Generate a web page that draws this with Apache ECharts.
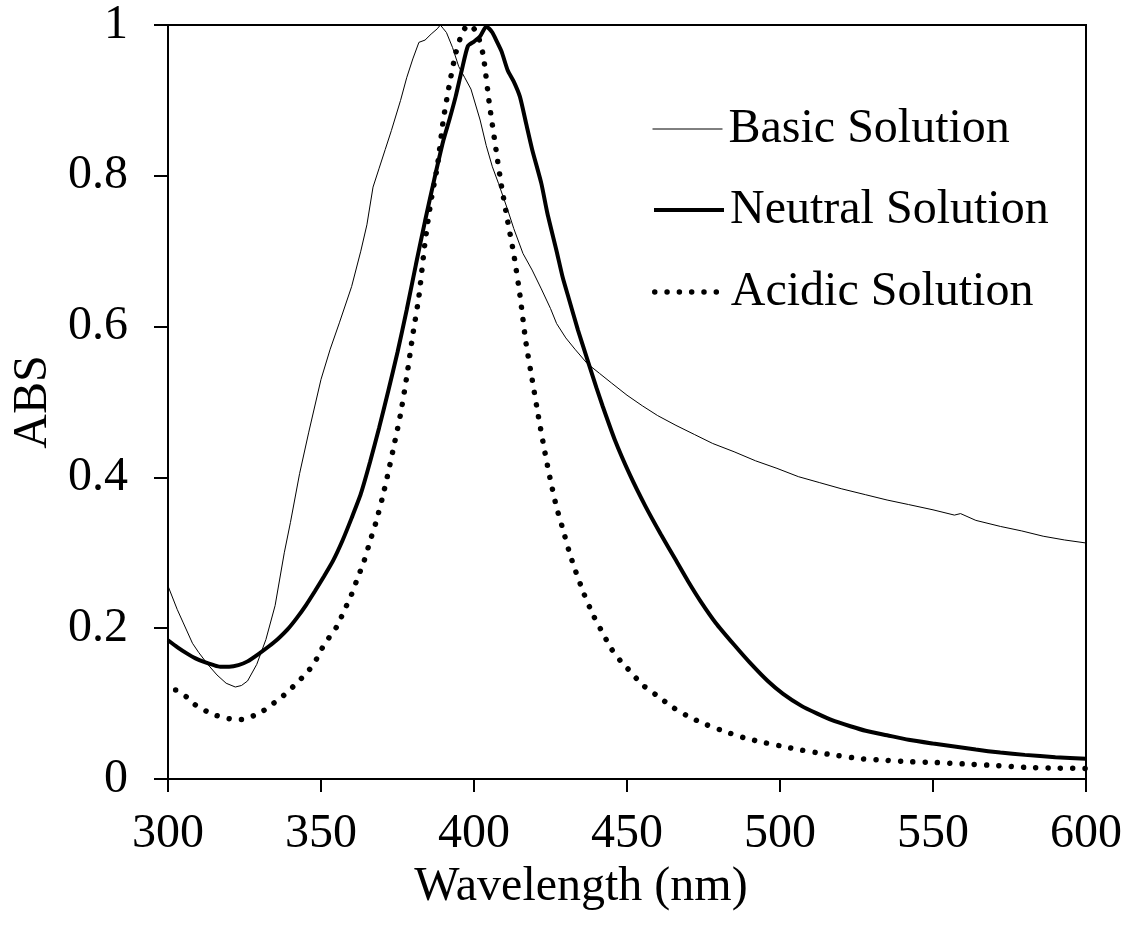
<!DOCTYPE html>
<html>
<head>
<meta charset="utf-8">
<script src="https://cdn.jsdelivr.net/npm/echarts@6/dist/echarts.min.js"></script>
<style>
html,body{margin:0;padding:0;background:#fff;}
#chart{width:1127px;height:929px;}
</style>
</head>
<body>
<div id="chart"></div>
<script>
// Tick labels / axis ranges
var xTicks = [300, 350, 400, 450, 500, 550, 600];
var yTicks = [0, 0.2, 0.4, 0.6, 0.8, 1];
var seriesNames = ['Basic Solution', 'Neutral Solution', 'Acidic Solution'];

// Basic solution
var basicWl = [300,303,305,308,310,313,316,319,322,324,326,329,332,335,338,340,343,346,350,353,356,360,363,365,367,369,371,373,376,378,380,382,384,386,388,389,390,391,393,395,397,399,402,404,406,408,411,413,416,419,422,425,427,430,433,437,441,445,450,455,460,466,472,478,485,492,499,506,513,520,528,535,542,550,557,559,564,572,579,586,593,600];
var basicAbs = [0.256,0.225,0.207,0.180,0.168,0.152,0.138,0.127,0.122,0.124,0.130,0.152,0.185,0.230,0.300,0.340,0.405,0.460,0.530,0.570,0.605,0.653,0.700,0.735,0.785,0.810,0.835,0.860,0.900,0.930,0.955,0.977,0.980,0.988,0.995,1.000,0.995,0.990,0.970,0.945,0.930,0.915,0.874,0.840,0.812,0.790,0.755,0.730,0.697,0.675,0.650,0.624,0.604,0.585,0.570,0.551,0.538,0.525,0.509,0.495,0.482,0.469,0.457,0.445,0.434,0.422,0.412,0.401,0.393,0.385,0.377,0.370,0.364,0.357,0.350,0.352,0.343,0.335,0.329,0.322,0.317,0.313];

// Neutral solution
var neutralWl = [300,303,306,309,312,315,317,320,323,326,330,333,336,339,342,345,348,351,354,357,360,363,366,369,372,375,378,381,384,387,390,392,394,396,398,400,402,404,405,406,407,409,411,413,415,417,419,422,424,427,429,431,434,437,440,442,446,451,456,461,466,470,474,479,485,490,496,501,507,512,517,523,528,535,542,550,557,564,572,580,590,600];
var neutralAbs = [0.184,0.175,0.167,0.160,0.155,0.151,0.149,0.149,0.151,0.156,0.167,0.176,0.186,0.198,0.213,0.230,0.249,0.269,0.290,0.316,0.346,0.378,0.420,0.466,0.515,0.566,0.622,0.682,0.740,0.795,0.847,0.875,0.905,0.940,0.972,0.978,0.985,0.998,0.995,0.990,0.982,0.965,0.940,0.925,0.905,0.870,0.835,0.790,0.750,0.700,0.665,0.637,0.595,0.557,0.519,0.495,0.450,0.403,0.362,0.325,0.290,0.262,0.236,0.207,0.178,0.155,0.130,0.113,0.097,0.087,0.078,0.070,0.064,0.058,0.052,0.047,0.043,0.039,0.035,0.032,0.029,0.027];

// Acidic solution
var acidicWl = [302.5,306,309,313,316,320,324,328,331,334,337,340,343,346,348,350,352,355,358,360,362,364,366,368,370,372,374,376,378,380,382,384,386,388,390,392,394,396,398,400,401,403,405,407,409,411,413,415,417,419,421,423,425,427,429,431,433,436,439,442,445,448,451,455,460,465,470,476,482,488,494,500,506,512,519,526,534,542,550,560,570,580,590,600];
var acidicAbs = [0.118,0.109,0.098,0.089,0.084,0.080,0.079,0.084,0.090,0.099,0.108,0.119,0.131,0.144,0.155,0.171,0.184,0.201,0.227,0.245,0.267,0.288,0.315,0.341,0.372,0.407,0.445,0.484,0.533,0.589,0.640,0.712,0.768,0.812,0.875,0.922,0.962,0.988,1.000,0.995,0.990,0.960,0.896,0.840,0.786,0.740,0.696,0.642,0.578,0.530,0.482,0.437,0.396,0.360,0.332,0.303,0.278,0.245,0.217,0.194,0.172,0.156,0.143,0.125,0.110,0.095,0.083,0.072,0.063,0.055,0.049,0.044,0.039,0.035,0.031,0.027,0.025,0.023,0.022,0.020,0.018,0.0155,0.0145,0.014];

function pairs(xs, ys) { return xs.map(function (x, i) { return [x, ys[i]]; }); }

var FONT = "'Liberation Serif', 'Times New Roman', serif";
var FS = 48;

var lineStyles = [
  { color: '#000', width: 1 },
  { color: '#000', width: 4 },
  { color: '#000', width: 5.5, type: [0.01, 12.3], cap: 'round' }
];
var legendTops = [105, 186, 268];

function makeLegend(i) {
  return {
    data: [seriesNames[i]], left: 652, top: legendTops[i], padding: 0,
    itemWidth: 70, itemHeight: 20,
    itemStyle: { opacity: 0 },
    lineStyle: lineStyles[i],
    textStyle: { fontFamily: FONT, fontSize: FS, color: '#000', padding: [0, 0, 0, 1] }
  };
}

var chart = echarts.init(document.getElementById('chart'), null, { renderer: 'canvas' });
chart.setOption({
  animation: false,
  backgroundColor: '#ffffff',
  grid: {
    left: 168, top: 25, width: 918, height: 754,
    show: true, borderColor: '#000', borderWidth: 2, backgroundColor: 'transparent'
  },
  legend: [makeLegend(0), makeLegend(1), makeLegend(2)],
  xAxis: {
    type: 'value', min: xTicks[0], max: xTicks[xTicks.length - 1], interval: 50,
    name: 'Wavelength (nm)', nameLocation: 'middle', nameGap: 78,
    nameTextStyle: { fontFamily: FONT, fontSize: FS, color: '#000', padding: [0, 92, 0, 0] },
    axisLine: { show: true, onZero: false, lineStyle: { color: '#000', width: 2 } },
    axisTick: { show: true, inside: false, length: 13, lineStyle: { color: '#000', width: 2 } },
    axisLabel: { fontFamily: FONT, fontSize: FS, color: '#000', margin: 31 },
    splitLine: { show: false }
  },
  yAxis: {
    type: 'value', min: yTicks[0], max: yTicks[yTicks.length - 1], interval: 0.2,
    name: 'ABS', nameLocation: 'middle', nameGap: 110, nameRotate: 90,
    nameTextStyle: { fontFamily: FONT, fontSize: FS, color: '#000' },
    axisLine: { show: true, lineStyle: { color: '#000', width: 2 } },
    axisTick: { show: true, inside: false, length: 14, lineStyle: { color: '#000', width: 2 } },
    axisLabel: { fontFamily: FONT, fontSize: FS, color: '#000', margin: 40 },
    splitLine: { show: false }
  },
  series: [
    { name: seriesNames[0], type: 'line', data: pairs(basicWl, basicAbs), symbol: 'none',
      lineStyle: lineStyles[0], itemStyle: { color: '#000' } },
    { name: seriesNames[1], type: 'line', data: pairs(neutralWl, neutralAbs), symbol: 'none', smooth: 0.2,
      lineStyle: lineStyles[1], itemStyle: { color: '#000' } },
    { name: seriesNames[2], type: 'line', data: pairs(acidicWl, acidicAbs), symbol: 'none', smooth: 0.2,
      lineStyle: lineStyles[2], itemStyle: { color: '#000' } }
  ]
});
</script>
</body>
</html>
